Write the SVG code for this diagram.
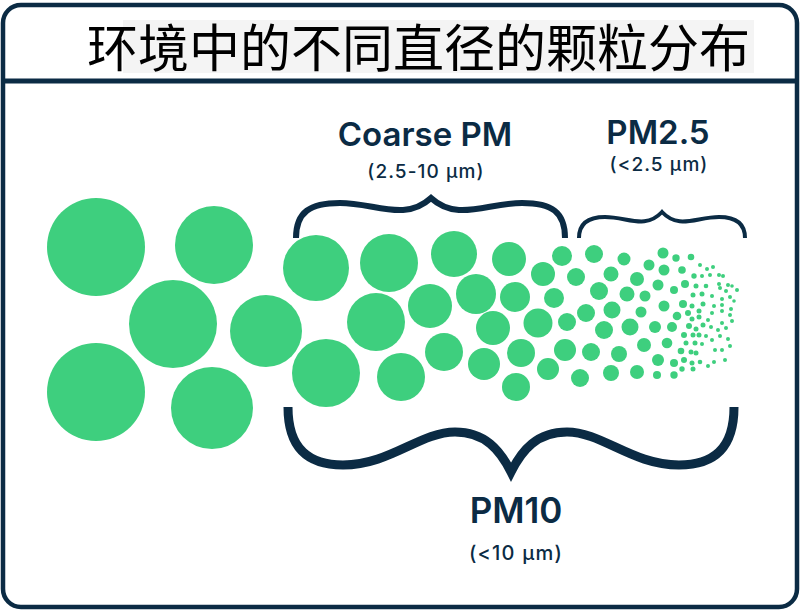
<svg xmlns="http://www.w3.org/2000/svg" width="800" height="611" viewBox="0 0 800 611">
<style>
.p{fill:#3ecf7e}
.br{fill:none;stroke:#0b2b44;stroke-linecap:butt;stroke-linejoin:miter}
.lbl{font-family:Inter,"Liberation Sans",sans-serif;font-weight:600;fill:#0b2b44;text-anchor:middle}
.sub{font-family:Inter,"Liberation Sans",sans-serif;font-weight:500;fill:#0b2b44;text-anchor:middle;letter-spacing:1.1px}
</style>
<rect width="800" height="611" fill="#ffffff"/>
<g id="frame">
<rect x="3" y="5" width="794" height="602" rx="18" fill="none" stroke="#0b2b44" stroke-width="4.5"/>
<line x1="3" y1="81" x2="797" y2="81" stroke="#0b2b44" stroke-width="5"/>
</g>
<g id="title">
<rect x="123" y="20" width="631" height="53" fill="#f4f4f4"/>
<text x="87" y="67" font-family="'Noto Sans CJK SC','Noto Sans',sans-serif" font-size="51" fill="#000">环境中的不同直径的颗粒分布</text>
</g>
<g id="particles">
<circle class="p" cx="96" cy="247" r="49"/>
<circle class="p" cx="214" cy="245" r="39"/>
<circle class="p" cx="173" cy="324" r="44"/>
<circle class="p" cx="266" cy="331" r="36"/>
<circle class="p" cx="96" cy="392" r="49"/>
<circle class="p" cx="212" cy="408" r="41"/>
<circle class="p" cx="316" cy="268" r="33"/>
<circle class="p" cx="389" cy="263" r="29"/>
<circle class="p" cx="454" cy="254" r="23"/>
<circle class="p" cx="509" cy="259" r="17"/>
<circle class="p" cx="430" cy="306" r="22"/>
<circle class="p" cx="376" cy="322" r="29"/>
<circle class="p" cx="476" cy="294" r="20"/>
<circle class="p" cx="515" cy="297" r="15"/>
<circle class="p" cx="493" cy="328" r="17"/>
<circle class="p" cx="326" cy="373" r="34"/>
<circle class="p" cx="401" cy="377" r="24"/>
<circle class="p" cx="444" cy="352" r="19"/>
<circle class="p" cx="484" cy="364" r="16"/>
<circle class="p" cx="521" cy="353" r="14"/>
<circle class="p" cx="516" cy="387" r="14"/>
<circle class="p" cx="562" cy="256" r="10"/>
<circle class="p" cx="543" cy="274" r="12"/>
<circle class="p" cx="554" cy="298" r="10"/>
<circle class="p" cx="538" cy="323" r="14.5"/>
<circle class="p" cx="567" cy="322" r="9"/>
<circle class="p" cx="565" cy="350" r="11"/>
<circle class="p" cx="548" cy="369" r="11"/>
<circle class="p" cx="576" cy="277" r="9"/>
<circle class="p" cx="594" cy="254" r="9"/>
<circle class="p" cx="599" cy="291" r="9"/>
<circle class="p" cx="586" cy="313" r="9"/>
<circle class="p" cx="604" cy="330" r="9"/>
<circle class="p" cx="591" cy="352" r="9"/>
<circle class="p" cx="580" cy="378" r="9"/>
<circle class="p" cx="611" cy="274" r="7.5"/>
<circle class="p" cx="624" cy="259" r="6.5"/>
<circle class="p" cx="612" cy="310" r="8.5"/>
<circle class="p" cx="627" cy="294" r="7.5"/>
<circle class="p" cx="630" cy="327" r="8.5"/>
<circle class="p" cx="619" cy="354" r="8"/>
<circle class="p" cx="611" cy="373" r="8"/>
<circle class="p" cx="637" cy="279" r="7"/>
<circle class="p" cx="649" cy="265" r="5.5"/>
<circle class="p" cx="645" cy="296" r="5.5"/>
<circle class="p" cx="641" cy="312" r="5.5"/>
<circle class="p" cx="655" cy="327" r="6"/>
<circle class="p" cx="644" cy="345" r="7"/>
<circle class="p" cx="637" cy="372" r="7"/>
<circle class="p" cx="658" cy="285" r="5.5"/>
<circle class="p" cx="663" cy="253" r="5.5"/>
<circle class="p" cx="664" cy="270" r="5.5"/>
<circle class="p" cx="664" cy="306" r="5.5"/>
<circle class="p" cx="658" cy="360" r="6"/>
<circle class="p" cx="657" cy="375" r="4"/>
<circle class="p" cx="667" cy="343" r="5.3"/>
<circle class="p" cx="672" cy="327" r="5"/>
<circle class="p" cx="676" cy="258" r="3.7"/>
<circle class="p" cx="691" cy="257" r="3.3"/>
<circle class="p" cx="700" cy="265" r="2"/>
<circle class="p" cx="707" cy="269" r="2"/>
<circle class="p" cx="713" cy="267" r="2"/>
<circle class="p" cx="682" cy="270" r="3.8"/>
<circle class="p" cx="694" cy="276" r="2.7"/>
<circle class="p" cx="702" cy="276" r="2"/>
<circle class="p" cx="710" cy="275" r="2"/>
<circle class="p" cx="719" cy="275" r="2"/>
<circle class="p" cx="723" cy="276" r="2"/>
<circle class="p" cx="674" cy="290" r="4"/>
<circle class="p" cx="685" cy="284" r="4"/>
<circle class="p" cx="696" cy="286" r="2.5"/>
<circle class="p" cx="706" cy="286" r="2.3"/>
<circle class="p" cx="719" cy="284" r="2"/>
<circle class="p" cx="720" cy="288" r="2"/>
<circle class="p" cx="728" cy="285" r="2"/>
<circle class="p" cx="732" cy="286" r="1.8"/>
<circle class="p" cx="737" cy="290" r="2"/>
<circle class="p" cx="726" cy="291" r="2"/>
<circle class="p" cx="693" cy="295" r="2.5"/>
<circle class="p" cx="702" cy="294" r="2.5"/>
<circle class="p" cx="712" cy="296" r="2"/>
<circle class="p" cx="722" cy="299" r="2"/>
<circle class="p" cx="730" cy="297" r="2"/>
<circle class="p" cx="734" cy="301" r="1.8"/>
<circle class="p" cx="683" cy="304" r="4"/>
<circle class="p" cx="692" cy="306" r="2.5"/>
<circle class="p" cx="703" cy="304" r="2.5"/>
<circle class="p" cx="714" cy="306" r="2"/>
<circle class="p" cx="722" cy="305" r="2"/>
<circle class="p" cx="731" cy="309" r="2"/>
<circle class="p" cx="677" cy="316" r="4.3"/>
<circle class="p" cx="688" cy="313" r="3"/>
<circle class="p" cx="699" cy="311" r="2.5"/>
<circle class="p" cx="712" cy="313" r="2"/>
<circle class="p" cx="722" cy="311" r="2"/>
<circle class="p" cx="730" cy="315" r="2"/>
<circle class="p" cx="692" cy="319" r="2.5"/>
<circle class="p" cx="699" cy="317" r="2.5"/>
<circle class="p" cx="708" cy="320" r="2"/>
<circle class="p" cx="722" cy="323" r="2"/>
<circle class="p" cx="732" cy="321" r="2"/>
<circle class="p" cx="689" cy="326" r="3"/>
<circle class="p" cx="696" cy="329" r="2.5"/>
<circle class="p" cx="703" cy="325" r="2.5"/>
<circle class="p" cx="711" cy="327" r="2"/>
<circle class="p" cx="718" cy="330" r="2"/>
<circle class="p" cx="726" cy="328" r="2"/>
<circle class="p" cx="684" cy="335" r="3"/>
<circle class="p" cx="693" cy="335" r="2.5"/>
<circle class="p" cx="699" cy="335" r="2.5"/>
<circle class="p" cx="706" cy="336" r="2"/>
<circle class="p" cx="712" cy="340" r="2"/>
<circle class="p" cx="720" cy="336" r="2"/>
<circle class="p" cx="728" cy="339" r="2"/>
<circle class="p" cx="686" cy="343" r="2.5"/>
<circle class="p" cx="695" cy="343" r="2.5"/>
<circle class="p" cx="702" cy="344" r="2"/>
<circle class="p" cx="715" cy="350" r="2"/>
<circle class="p" cx="722" cy="350" r="2"/>
<circle class="p" cx="730" cy="346" r="2"/>
<circle class="p" cx="681" cy="351" r="3.3"/>
<circle class="p" cx="691" cy="352" r="2.5"/>
<circle class="p" cx="696" cy="353" r="2.5"/>
<circle class="p" cx="674" cy="363" r="4"/>
<circle class="p" cx="684" cy="360" r="3"/>
<circle class="p" cx="692" cy="363" r="2.5"/>
<circle class="p" cx="700" cy="362" r="2.3"/>
<circle class="p" cx="708" cy="366" r="2"/>
<circle class="p" cx="714" cy="362" r="2"/>
<circle class="p" cx="725" cy="360" r="2"/>
<circle class="p" cx="682" cy="369" r="2.7"/>
<circle class="p" cx="693" cy="369" r="2.5"/>
<circle class="p" cx="674" cy="375" r="3.7"/>
</g>
<g id="connectors">
<path id="brace-coarse" class="br" stroke-width="6" d="M296,238 C296,212 310,203 340,203 C375,203 405,222 431,198 C457,222 487,203 522,203 C552,203 565,212 565,238"/>
<path id="brace-pm25" class="br" stroke-width="4" d="M579,238 C579,222 590,217 605,217 C628,217 645,230 662,212 C679,230 696,217 719,217 C734,217 745,222 745,238"/>
<path id="brace-pm10" class="br" stroke-width="9" d="M288,407 C288,450 310,465 343,465 C390,465 420,432 455,432 C485,432 500,450 511,472 C522,450 537,432 567,432 C602,432 632,465 679,465 C712,465 734,450 734,407"/>
</g>
<g id="label-coarse">
<text class="lbl" x="425" y="145.5" font-size="33">Coarse PM</text>
<text class="sub" x="426" y="177.5" font-size="19">(2.5-10 µm)</text>
</g>
<g id="label-pm25">
<text class="lbl" x="658" y="144" font-size="33">PM2.5</text>
<text class="sub" x="659" y="170.5" font-size="19">(&lt;2.5 µm)</text>
</g>
<g id="label-pm10">
<text class="lbl" x="516" y="522.5" font-size="35">PM10</text>
<text class="sub" x="516" y="560" font-size="20" style="letter-spacing:1.2px">(&lt;10 µm)</text>
</g>
</svg>
